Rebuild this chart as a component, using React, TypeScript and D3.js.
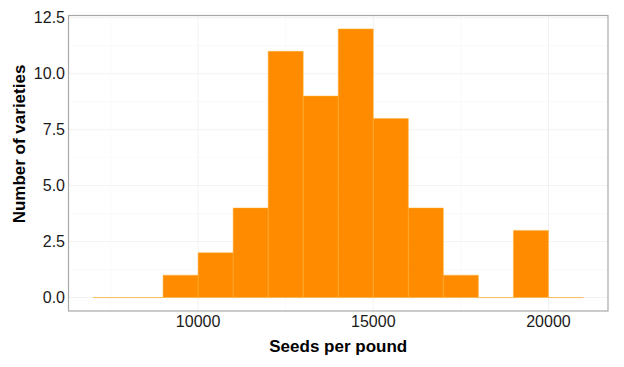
import React from "react";
import * as d3 from "d3";

const binStarts = [7000, 8000, 9000, 10000, 11000, 12000, 13000, 14000, 15000, 16000, 17000, 18000, 19000, 20000];
const binWidth = 1000;
const counts = [0, 0, 1, 2, 4, 11, 9, 12, 8, 4, 1, 0, 3, 0];
const xTicks = [10000, 15000, 20000];
const xMinor = [7500, 12500, 17500];
const yTicks = [0, 2.5, 5, 7.5, 10, 12.5];
const yMinor = [1.25, 3.75, 6.25, 8.75, 11.25];

const W = 624, H = 367;
const left = 68.5, right = 608, top = 15.5, bottom = 311;

export default function App() {
  const x = d3.scaleLinear().domain([6300, 21700]).range([left, right]);
  const y = d3.scaleLinear().domain([-0.6, 12.6]).range([bottom, top]);
  const font = "Arial, 'Liberation Sans', sans-serif";
  const barPath = (b: number, c: number) => {
    const p = d3.path();
    p.moveTo(x(b), y(0));
    p.lineTo(x(b), y(c));
    p.lineTo(x(b + binWidth), y(c));
    p.lineTo(x(b + binWidth), y(0));
    p.closePath();
    return p.toString();
  };
  return (
    <svg width={W} height={H} style={{ position: "absolute", left: 0, top: 0 }}>
      <rect x={0} y={0} width={W} height={H} fill="#fff" />
      {xMinor.map((v) => (
        <line key={"xm" + v} x1={x(v)} x2={x(v)} y1={top} y2={bottom} stroke="#f6f6f6" strokeWidth={0.6} />
      ))}
      {yMinor.map((v) => (
        <line key={"ym" + v} x1={left} x2={right} y1={y(v)} y2={y(v)} stroke="#f6f6f6" strokeWidth={0.6} />
      ))}
      {xTicks.map((v) => (
        <line key={"xg" + v} x1={x(v)} x2={x(v)} y1={top} y2={bottom} stroke="#f2f2f2" strokeWidth={1} />
      ))}
      {yTicks.map((v) => (
        <line key={"yg" + v} x1={left} x2={right} y1={y(v)} y2={y(v)} stroke="#f2f2f2" strokeWidth={1} />
      ))}
      {binStarts.map((b, i) => (
        <path
          key={"b" + b}
          d={barPath(b, counts[i])}
          fill="#FF8C00"
          stroke="rgba(255,175,50,0.5)"
          strokeWidth={1}
        />
      ))}
      <rect x={left} y={top} width={right - left} height={bottom - top} fill="none" stroke="#a8a8a8" strokeWidth={1.2} />
      {yTicks.map((v) => (
        <text key={"yt" + v} x={left - 3.5} y={y(v)} dy="0.35em" textAnchor="end" fontFamily={font} fontSize={16} fill="#1a1a1a">
          {v.toFixed(1)}
        </text>
      ))}
      {xTicks.map((v) => (
        <text key={"xt" + v} x={x(v)} y={327} textAnchor="middle" fontFamily={font} fontSize={16} fill="#1a1a1a">
          {v}
        </text>
      ))}
      <text x={(left + right) / 2} y={352} textAnchor="middle" fontFamily={font} fontSize={17} fontWeight="bold" fill="#000">
        Seeds per pound
      </text>
      <text
        transform={`translate(25,144) rotate(-90)`}
        textAnchor="middle"
        fontFamily={font}
        fontSize={17}
        fontWeight="bold"
        fill="#000"
      >
        Number of varieties
      </text>
    </svg>
  );
}
